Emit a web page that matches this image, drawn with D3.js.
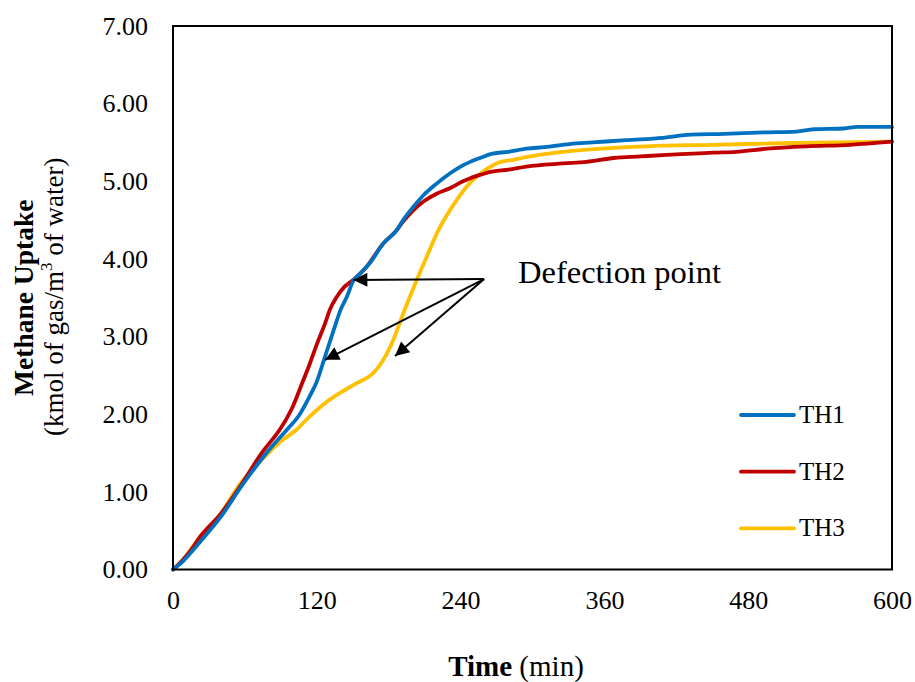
<!DOCTYPE html>
<html>
<head>
<meta charset="utf-8">
<script src="https://cdn.jsdelivr.net/npm/d3@7"></script>
<style>
  html, body { margin: 0; padding: 0; background: #fff; }
  svg { display: block; font-family: "Liberation Serif", "Times New Roman", serif; }
</style>
</head>
<body>
<svg id="chart" width="915" height="682"></svg>
<script>
// Methane uptake over time for three runs (kmol of gas per m3 of water)
const th1Time  = [0, 8, 15, 25, 40, 57, 78, 95, 105, 114, 120, 126, 134, 140, 145, 150.5, 156, 165, 175.5, 186.7, 192, 200, 209, 220, 231, 240, 248, 258, 265, 280, 295, 310, 331, 350, 378, 409, 432, 460, 493, 520, 535, 560, 571, 600];
const th1Value = [0, 0.10, 0.22, 0.40, 0.68, 1.07, 1.50, 1.80, 1.98, 2.23, 2.42, 2.70, 3.08, 3.35, 3.51, 3.72, 3.81, 3.96, 4.20, 4.37, 4.50, 4.66, 4.82, 4.97, 5.10, 5.19, 5.25, 5.31, 5.35, 5.38, 5.42, 5.44, 5.48, 5.50, 5.53, 5.56, 5.60, 5.61, 5.63, 5.64, 5.67, 5.68, 5.70, 5.70];

const th2Time  = [0, 8, 15, 22.5, 40, 56, 74, 89, 95, 100, 107, 114.4, 120, 126.9, 131, 136.6, 143, 150.5, 160, 175.5, 186.7, 192, 200, 209, 220, 231, 242, 248, 258, 265, 280, 295, 326, 345, 368, 390, 412, 451, 470, 496, 529, 565, 600];
const th2Value = [0, 0.12, 0.25, 0.42, 0.72, 1.07, 1.50, 1.80, 1.95, 2.10, 2.37, 2.66, 2.90, 3.17, 3.35, 3.51, 3.64, 3.73, 3.87, 4.20, 4.37, 4.48, 4.62, 4.74, 4.84, 4.91, 5.00, 5.04, 5.09, 5.12, 5.15, 5.19, 5.23, 5.25, 5.30, 5.32, 5.34, 5.37, 5.38, 5.42, 5.45, 5.47, 5.51];

const th3Time  = [0, 8, 22.5, 40, 54.5, 79.6, 90, 103, 114, 125, 140, 153.3, 167.2, 175.5, 183.9, 192.2, 203.4, 211.8, 221.5, 228, 236.8, 245, 253.5, 262, 270, 285, 298, 320, 340, 395, 451, 507, 600];
const th3Value = [0, 0.12, 0.42, 0.72, 1.07, 1.50, 1.65, 1.80, 1.97, 2.12, 2.28, 2.40, 2.53, 2.70, 2.96, 3.30, 3.73, 4.03, 4.37, 4.55, 4.76, 4.93, 5.06, 5.16, 5.23, 5.28, 5.32, 5.37, 5.40, 5.45, 5.47, 5.49, 5.51];

const seriesNames  = ["TH1", "TH2", "TH3"];
const seriesColors = ["#0070C0", "#C00000", "#FFC000"];

const xTicks = [0, 120, 240, 360, 480, 600];
const yTicks = [0, 1, 2, 3, 4, 5, 6, 7];

// Annotation: label anchor and the three points it points at (time, uptake)
const noteLabel  = "Defection point";
const noteOrigin = [259.6, 3.74];
const noteTips   = [[150.5, 3.73], [126.9, 2.70], [185.3, 2.75]];

const svg = d3.select("#chart");
const plot = { left: 173, right: 892, top: 26, bottom: 569.5 };

const x = d3.scaleLinear().domain([0, 600]).range([plot.left, plot.right]);
const y = d3.scaleLinear().domain([0, 7]).range([plot.bottom, plot.top]);

// Series lines
const series = seriesNames.map((name, i) => {
  const t = [th1Time, th2Time, th3Time][i];
  const v = [th1Value, th2Value, th3Value][i];
  return { name, color: seriesColors[i], points: t.map((tt, j) => [tt, v[j]]) };
});

const line = d3.line()
  .x(d => x(d[0]))
  .y(d => y(d[1]))
  .curve(d3.curveMonotoneX);

// draw TH3 first, then TH2, TH1 on top
svg.append("g").selectAll("path")
  .data([series[2], series[1], series[0]])
  .join("path")
  .attr("d", d => line(d.points))
  .attr("fill", "none")
  .attr("stroke", d => d.color)
  .attr("stroke-width", 3.8)
  .attr("stroke-linejoin", "round")
  .attr("stroke-linecap", "round");

// Plot frame
svg.append("rect")
  .attr("x", plot.left)
  .attr("y", plot.top)
  .attr("width", plot.right - plot.left)
  .attr("height", plot.bottom - plot.top)
  .attr("fill", "none")
  .attr("stroke", "#000")
  .attr("stroke-width", 2);

// Axes (labels only, no tick marks)
const yAxis = svg.append("g")
  .attr("transform", `translate(${plot.left},0)`)
  .call(d3.axisLeft(y).tickValues(yTicks).tickFormat(d3.format(".2f")).tickSize(0).tickPadding(25));
yAxis.select(".domain").remove();
yAxis.selectAll("text")
  .attr("font-family", "Liberation Serif, Times New Roman, serif")
  .attr("font-size", 26)
  .attr("fill", "#000");

const xAxis = svg.append("g")
  .attr("transform", `translate(0,${plot.bottom})`)
  .call(d3.axisBottom(x).tickValues(xTicks).tickFormat(d3.format("d")).tickSize(0).tickPadding(21));
xAxis.select(".domain").remove();
xAxis.selectAll("text")
  .attr("font-family", "Liberation Serif, Times New Roman, serif")
  .attr("font-size", 26)
  .attr("fill", "#000");

// Axis titles
const xTitle = svg.append("text")
  .attr("x", 516)
  .attr("y", 676)
  .attr("text-anchor", "middle")
  .attr("font-size", 29)
  .attr("fill", "#000");
xTitle.append("tspan").attr("font-weight", "bold").text("Time");
xTitle.append("tspan").text(" (min)");

const yCenter = (plot.top + plot.bottom) / 2;
svg.append("text")
  .attr("transform", `translate(33,${yCenter}) rotate(-90)`)
  .attr("text-anchor", "middle")
  .attr("font-size", 27.5)
  .attr("font-weight", "bold")
  .attr("fill", "#000")
  .text("Methane Uptake");

const yTitle2 = svg.append("text")
  .attr("transform", `translate(63,${yCenter - 1}) rotate(-90)`)
  .attr("text-anchor", "middle")
  .attr("font-size", 27)
  .attr("fill", "#000");
yTitle2.append("tspan").text("(kmol of gas/m");
yTitle2.append("tspan").attr("font-size", 17).attr("dy", -11).text("3");
yTitle2.append("tspan").attr("dy", 11).text(" of water)");

// Legend
const legend = svg.append("g");
series.forEach((s, i) => {
  const ly = 415 + i * 56.7;
  legend.append("line")
    .attr("x1", 741).attr("x2", 794)
    .attr("y1", ly).attr("y2", ly)
    .attr("stroke", s.color)
    .attr("stroke-width", 3.8)
    .attr("stroke-linecap", "round");
  legend.append("text")
    .attr("x", 799)
    .attr("y", ly + 8)
    .attr("font-size", 25)
    .attr("fill", "#000")
    .text(s.name);
});

// Annotation arrows
const defs = svg.append("defs");
defs.append("marker")
  .attr("id", "arrowhead")
  .attr("viewBox", "0 0 10 10")
  .attr("refX", 10).attr("refY", 5)
  .attr("markerUnits", "userSpaceOnUse")
  .attr("markerWidth", 18).attr("markerHeight", 14)
  .attr("orient", "auto")
  .append("path")
  .attr("d", "M0,0 L10,5 L0,10 Z")
  .attr("fill", "#000");

svg.append("g").selectAll("line")
  .data(noteTips)
  .join("line")
  .attr("x1", x(noteOrigin[0]))
  .attr("y1", y(noteOrigin[1]))
  .attr("x2", d => x(d[0]))
  .attr("y2", d => y(d[1]))
  .attr("stroke", "#000")
  .attr("stroke-width", 2)
  .attr("marker-end", "url(#arrowhead)");

svg.append("text")
  .attr("x", 518)
  .attr("y", 283)
  .attr("font-size", 32.5)
  .attr("fill", "#000")
  .text(noteLabel);
</script>
</body>
</html>
